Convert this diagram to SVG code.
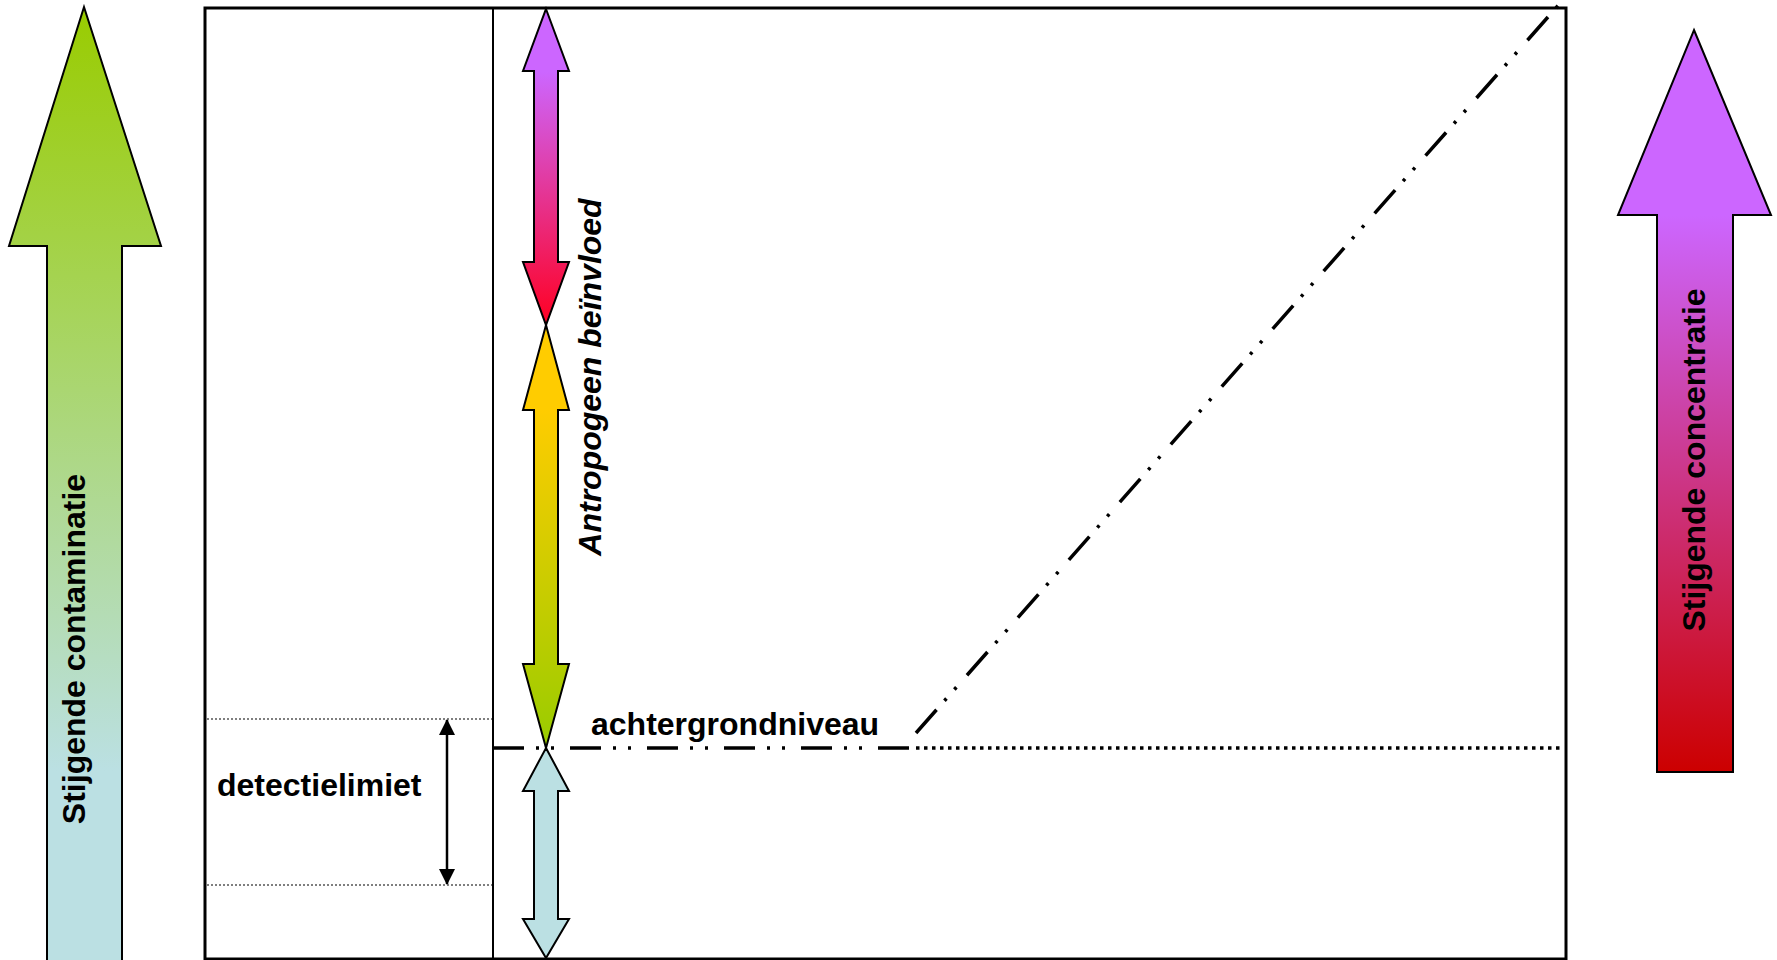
<svg xmlns="http://www.w3.org/2000/svg" width="1777" height="960" viewBox="0 0 1777 960">
  <style>
    .arrow { stroke: #000; stroke-width: 2; stroke-linejoin: miter; }
    .lbl { font-family: "Liberation Sans", Arial, sans-serif; font-weight: bold; font-size: 32px; fill: #000; }
    .ital { font-style: italic; }
    .frame { fill: none; stroke: #000; stroke-width: 3; }
    .dashdot { fill: none; stroke: #000; stroke-width: 3.5; stroke-dasharray: 31 12 3 12 3 16; }
    .dotted { fill: none; stroke: #000; stroke-width: 3.5; stroke-dasharray: 3.5 4.5; }
    .thindot { fill: none; stroke: #000; stroke-width: 1.2; stroke-dasharray: 2 2; }
  </style>
  <defs>
    <linearGradient id="gLeft" x1="0" y1="0" x2="0" y2="1">
      <stop offset="0" stop-color="#99CC00"/>
      <stop offset="0.8" stop-color="#BBE0E3"/>
      <stop offset="1" stop-color="#BBE0E3"/>
    </linearGradient>
    <linearGradient id="gRight" x1="0" y1="0" x2="0" y2="1">
      <stop offset="0" stop-color="#CC66FF"/>
      <stop offset="0.25" stop-color="#CC66FF"/>
      <stop offset="1" stop-color="#CC0000"/>
    </linearGradient>
    <linearGradient id="gTop" x1="0" y1="0" x2="0" y2="1">
      <stop offset="0" stop-color="#CC66FF"/>
      <stop offset="0.2" stop-color="#CC66FF"/>
      <stop offset="1" stop-color="#FF0022"/>
    </linearGradient>
    <linearGradient id="gMid" x1="0" y1="0" x2="0" y2="1">
      <stop offset="0" stop-color="#FFCC00"/>
      <stop offset="0.2" stop-color="#FFCC00"/>
      <stop offset="1" stop-color="#99CC00"/>
    </linearGradient>
    <marker id="tri" viewBox="0 0 16 16" refX="15" refY="8" markerWidth="16" markerHeight="16" orient="auto-start-reverse" markerUnits="userSpaceOnUse">
      <path d="M0,0 L16,8 L0,16 Z" fill="#000"/>
    </marker>
  </defs>

  <g id="left-arrow">
    <polygon class="arrow" fill="url(#gLeft)" points="84,7 161,246 122,246 122,962 47,962 47,246 9,246"/>
    <text class="lbl" transform="translate(85,649) rotate(-90)" text-anchor="middle">Stijgende contaminatie</text>
  </g>

  <g id="right-arrow">
    <polygon class="arrow" fill="url(#gRight)" points="1694,30 1771,215 1733,215 1733,772 1657,772 1657,215 1618,215"/>
    <text class="lbl" transform="translate(1705,460) rotate(-90)" text-anchor="middle">Stijgende concentratie</text>
  </g>

  <g id="frame">
    <rect class="frame" x="205" y="8" width="1361" height="951"/>
    <line x1="493" y1="8" x2="493" y2="959" stroke="#000" stroke-width="2"/>
  </g>

  <g id="arrow-antropogeen-top">
    <polygon class="arrow" fill="url(#gTop)" points="546,9 569,71 558,71 558,262 569,262 546,325 523,262 534,262 534,71 523,71"/>
  </g>
  <g id="arrow-antropogeen-mid">
    <polygon class="arrow" fill="url(#gMid)" points="546,325 569,410 558,410 558,664 569,664 546,748 523,664 534,664 534,410 523,410"/>
  </g>
  <g id="arrow-achtergrond">
    <polygon class="arrow" fill="#BBE0E3" points="546,748 569,791 558,791 558,919 569,919 546,958 523,919 534,919 534,791 523,791"/>
  </g>
  <g id="label-antropogeen">
    <text class="lbl ital" transform="translate(601,377) rotate(-90)" text-anchor="middle">Antropogeen beïnvloed</text>
  </g>

  <g id="connectors">
    <line class="dashdot" x1="493" y1="748" x2="910" y2="748"/>
    <line class="dotted" x1="916" y1="748" x2="1564" y2="748"/>
    <line class="dashdot" x1="916" y1="733" x2="1563" y2="0"/>
    <line class="thindot" x1="207" y1="719" x2="492" y2="719"/>
    <line class="thindot" x1="207" y1="885" x2="492" y2="885"/>
    <line x1="447" y1="720" x2="447" y2="884" stroke="#000" stroke-width="2.5" marker-start="url(#tri)" marker-end="url(#tri)"/>
  </g>

  <g id="label-achtergrond">
    <text class="lbl" x="591" y="735">achtergrondniveau</text>
  </g>
  <g id="label-detectie">
    <text class="lbl" x="217" y="796">detectielimiet</text>
  </g>
</svg>
